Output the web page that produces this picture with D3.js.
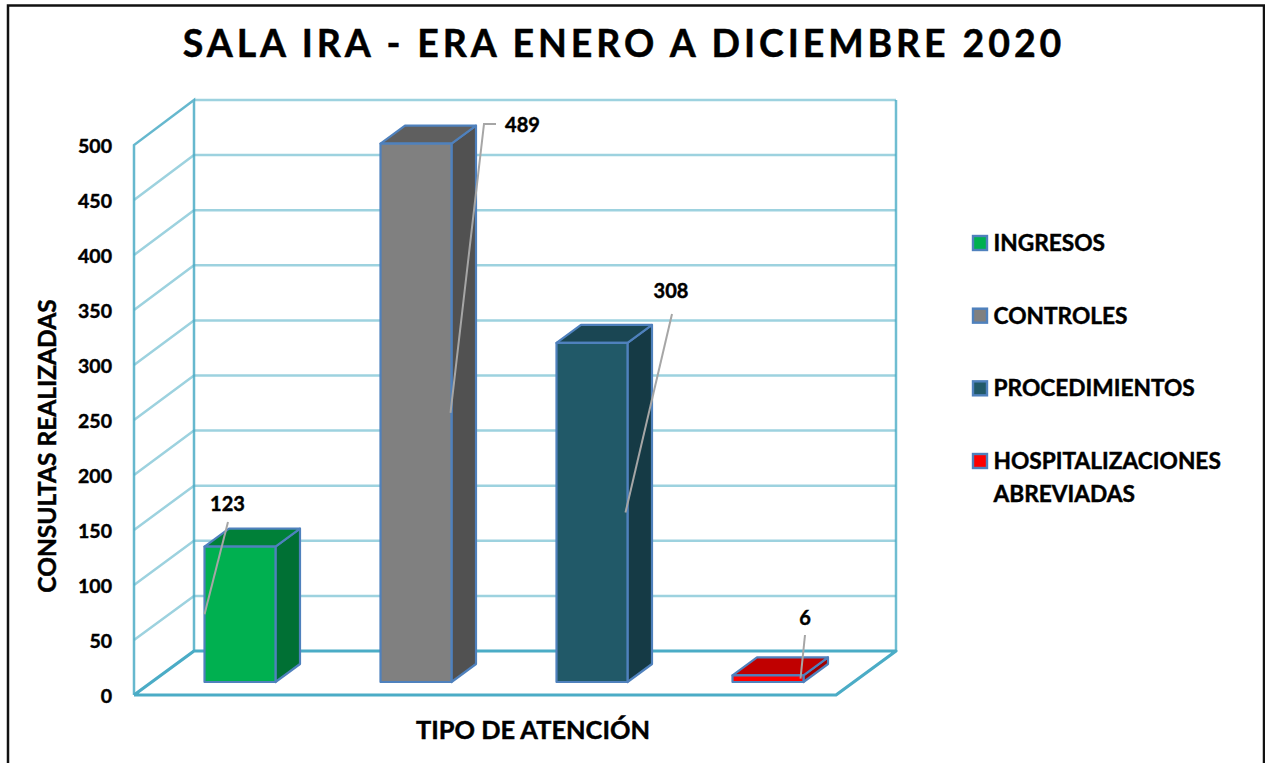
<!DOCTYPE html>
<html>
<head>
<meta charset="utf-8">
<script src="https://cdn.jsdelivr.net/npm/d3@7"></script>
<style>
  html, body { margin: 0; padding: 0; background: #fff; }
  svg { display: block; font-family: Lato, "Open Sans", sans-serif; font-weight: 700; }
  svg text { fill: #000; stroke: #000; stroke-width: 0.45px; }
</style>
</head>
<body>
<svg id="chart" width="1265" height="763"></svg>
<script>
const categories = ["INGRESOS", "CONTROLES", "PROCEDIMIENTOS", "HOSPITALIZACIONES ABREVIADAS"];
const values = [123, 489, 308, 6];
const yTicks = [0, 50, 100, 150, 200, 250, 300, 350, 400, 450, 500];
const frontColors = ["#00b050", "#808080", "#215968", "#ff0000"];
const sideColors = ["#007034", "#515151", "#153a45", "#a00000"];
const topColors = ["#008038", "#5f5f5f", "#1a4653", "#c00000"];

const svg = d3.select("#chart");

const dims = { left: 134, right: 836, depthX: 60, barW: 71, barDepthX: 24.5, barDepthY: 18 };

const yFront = d3.scaleLinear().domain([0, 500]).range([695, 145]);
const yBack = d3.scaleLinear().domain([0, 500]).range([651, 100]);
const yBar = d3.scaleLinear().domain([0, 500]).range([682, 131.5]);
const xBar = d3.scalePoint().domain(categories).range([204.5, 732.5]);

const backL = dims.left + dims.depthX;
const backR = dims.right + dims.depthX;
const axisColor = "#4bacc6";
const gridColor = "#9dd2df";
const line = d3.line();

// page frame
svg.append("path")
  .attr("d", "M8,763V5.5H1264V763")
  .attr("fill", "none")
  .attr("stroke", "#111")
  .attr("stroke-width", 2.5);

// walls
const gGrid = svg.append("g").attr("fill", "none");
gGrid.selectAll(".grid")
  .data(yTicks.filter((d) => d > 0 && d < 500))
  .join("path")
  .attr("class", "grid")
  .attr("stroke", gridColor)
  .attr("stroke-width", 2.5)
  .attr("d", (d) => line([[dims.left, yFront(d)], [backL, yBack(d)], [backR, yBack(d)]]));

gGrid.append("path")
  .attr("stroke", gridColor).attr("stroke-width", 2.5)
  .attr("d", line([[backL, yBack(500)], [backR, yBack(500)]]));
gGrid.append("path")
  .attr("stroke", axisColor).attr("stroke-opacity", 0.85).attr("stroke-width", 2.5)
  .attr("d", line([[dims.left, yFront(0)], [dims.left, yFront(500)], [backL, yBack(500)], [backL, yBack(0)]]));
gGrid.append("path")
  .attr("stroke", axisColor).attr("stroke-opacity", 0.8).attr("stroke-width", 2.5)
  .attr("d", line([[backR, yBack(500)], [backR, yBack(0)]]));

// floor
gGrid.append("path")
  .attr("stroke", axisColor).attr("stroke-width", 3.2).attr("stroke-linejoin", "round")
  .attr("d", line([[dims.left, yFront(0)], [backL, yBack(0)], [backR, yBack(0)], [dims.right, yFront(0)], [dims.left, yFront(0)]]));

// value axis
const gAxis = svg.append("g")
  .attr("transform", `translate(${dims.left - 22},1)`)
  .call(d3.axisLeft(yFront).tickValues(yTicks).tickSize(0).tickPadding(0));
gAxis.select(".domain").remove();
gAxis.selectAll("text")
  .attr("font-family", "Lato, sans-serif")
  .attr("font-weight", 700)
  .attr("font-size", 19.5);

// bars
const bars = svg.append("g")
  .selectAll("g")
  .data(categories)
  .join("g")
  .attr("stroke", "#4f81bd")
  .attr("stroke-width", 2.2)
  .attr("stroke-linejoin", "round");

const barRect = (d, i) => {
  const x0 = xBar(d);
  return { x0, x1: x0 + dims.barW, yTop: yBar(values[i]), yBase: yBar(0) };
};
bars.append("path")
  .attr("fill", (d, i) => sideColors[i])
  .attr("d", (d, i) => {
    const r = barRect(d, i);
    return line([[r.x1, r.yTop], [r.x1 + dims.barDepthX, r.yTop - dims.barDepthY], [r.x1 + dims.barDepthX, r.yBase - dims.barDepthY], [r.x1, r.yBase]]) + "Z";
  });
bars.append("path")
  .attr("fill", (d, i) => topColors[i])
  .attr("d", (d, i) => {
    const r = barRect(d, i);
    return line([[r.x0, r.yTop], [r.x0 + dims.barDepthX, r.yTop - dims.barDepthY], [r.x1 + dims.barDepthX, r.yTop - dims.barDepthY], [r.x1, r.yTop]]) + "Z";
  });
bars.append("rect")
  .attr("fill", (d, i) => frontColors[i])
  .attr("x", (d, i) => barRect(d, i).x0)
  .attr("y", (d, i) => barRect(d, i).yTop)
  .attr("width", dims.barW)
  .attr("height", (d, i) => barRect(d, i).yBase - barRect(d, i).yTop);

// data labels with leader lines, anchored at bar mid height
const labelLayout = [
  { anchorX: 0, bend: [228, 522], text: [227.5, 511] },
  { anchorX: 70, bend: [484, 124], tail: [496, 124], text: [522.5, 132] },
  { anchorX: 69, bend: [672, 314], text: [671, 298] },
  { anchorX: 68, bend: [805, 635], text: [805, 625] },
];
const gLabels = svg.append("g");
gLabels.selectAll("path")
  .data(categories)
  .join("path")
  .attr("fill", "none")
  .attr("stroke", "#a6a6a6")
  .attr("stroke-width", 2)
  .attr("d", (d, i) => {
    const l = labelLayout[i];
    const pts = [[xBar(d) + l.anchorX, yBar(values[i] / 2)], l.bend];
    if (l.tail) pts.push(l.tail);
    return line(pts);
  });
gLabels.selectAll("text")
  .data(values)
  .join("text")
  .attr("text-anchor", "middle")
  .attr("font-size", 20)
  .attr("x", (d, i) => labelLayout[i].text[0])
  .attr("y", (d, i) => labelLayout[i].text[1])
  .text((d) => d);

// title and axis titles
svg.append("text")
  .attr("x", 624).attr("y", 57)
  .attr("text-anchor", "middle")
  .attr("font-size", 37.5)
  .attr("letter-spacing", 3.9)
  .text("SALA IRA - ERA ENERO A DICIEMBRE 2020");
svg.append("text")
  .attr("transform", "translate(56,446) rotate(-90)")
  .attr("text-anchor", "middle")
  .attr("font-size", 24.5)
  .text("CONSULTAS REALIZADAS");
svg.append("text")
  .attr("x", 533).attr("y", 739)
  .attr("text-anchor", "middle")
  .attr("font-size", 25.4)
  .text("TIPO DE ATENCIÓN");

// legend
const legendY = d3.scalePoint().domain(categories).range([243, 461]);
const legend = svg.append("g")
  .selectAll("g")
  .data(categories)
  .join("g")
  .attr("transform", (d) => `translate(972,${legendY(d)})`);
legend.append("rect")
  .attr("x", 1).attr("y", -7).attr("width", 14).attr("height", 14)
  .attr("fill", (d, i) => frontColors[i])
  .attr("stroke", "#4f81bd")
  .attr("stroke-width", 2.4);
legend.append("text")
  .attr("x", 21.5)
  .attr("font-size", 22.7)
  .selectAll("tspan")
  .data((d) => d === categories[3] ? d.split(" ") : [d])
  .join("tspan")
  .attr("x", 21.5)
  .attr("y", (d, i) => 8 + i * 33)
  .text((d) => d);
</script>
</body>
</html>
